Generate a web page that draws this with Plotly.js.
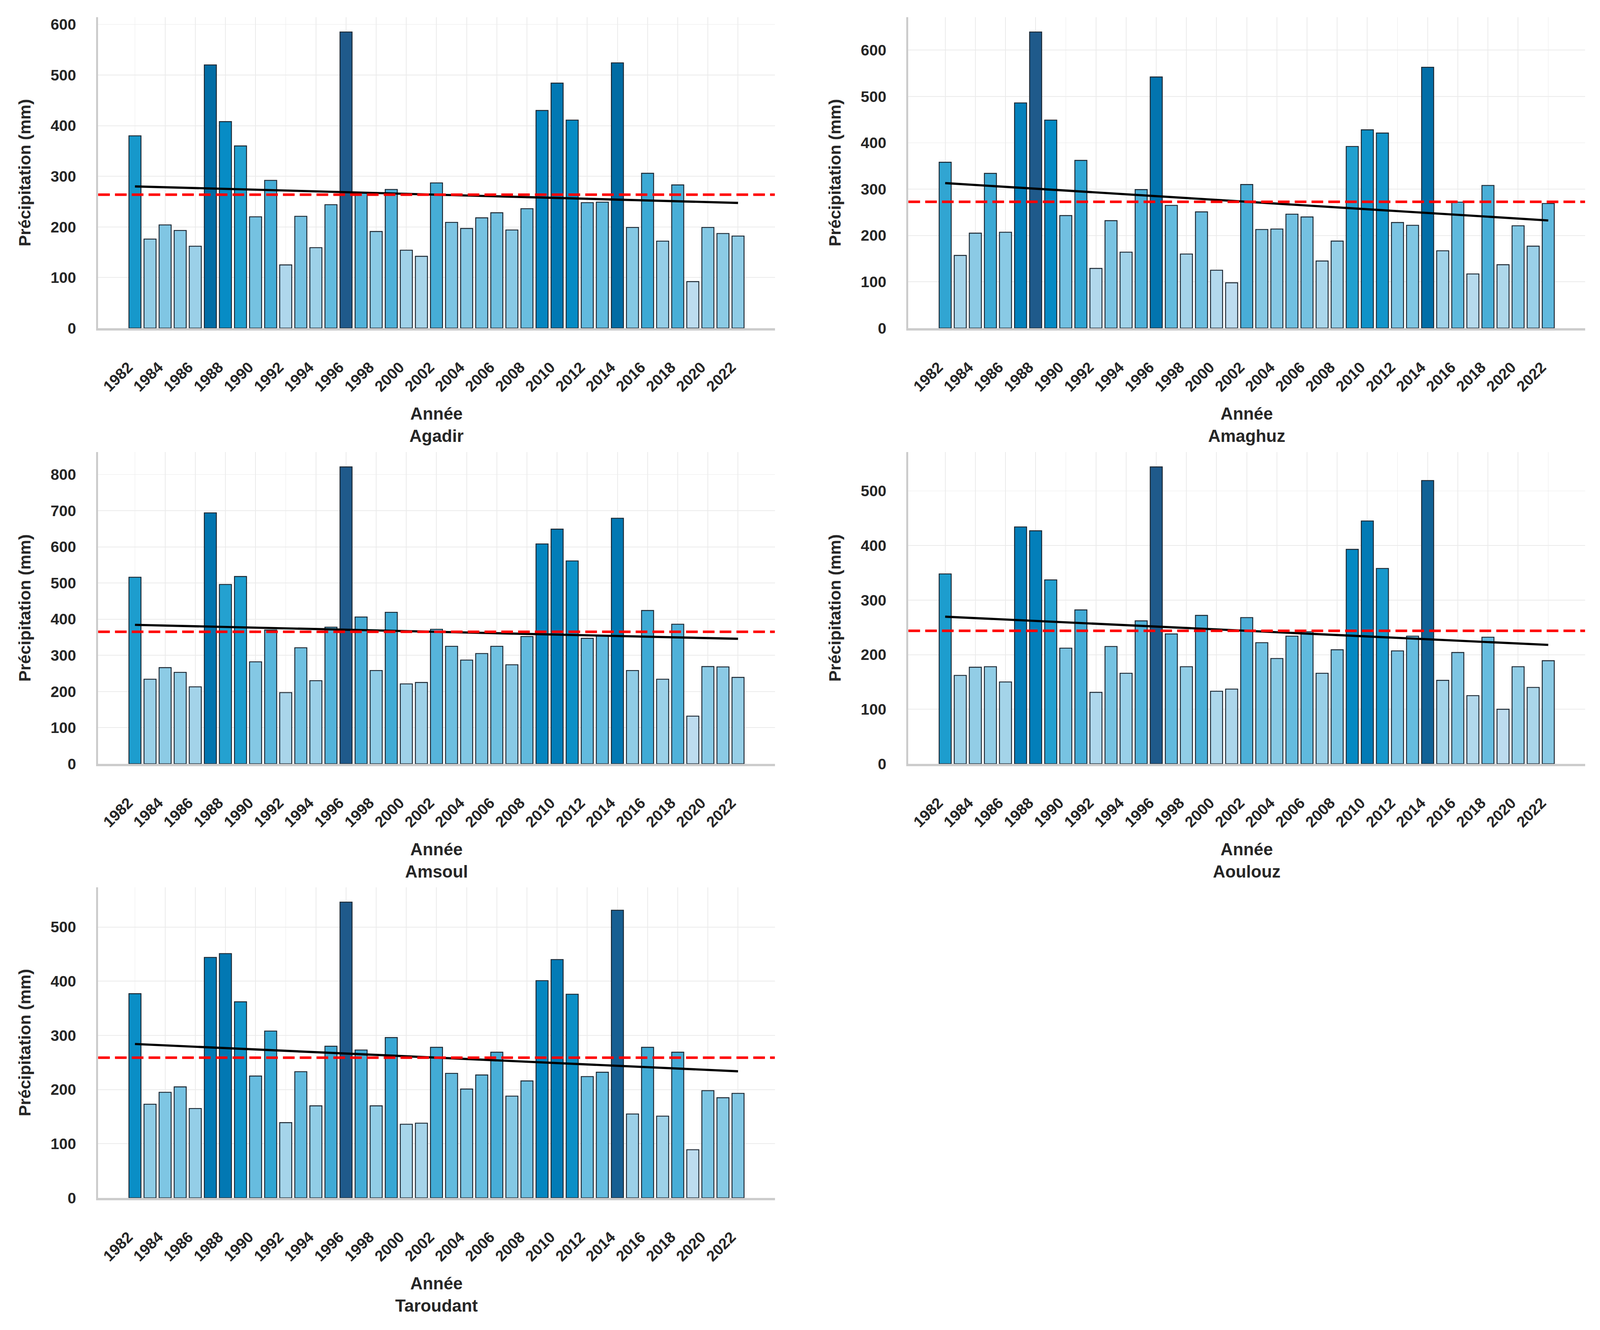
<!DOCTYPE html>
<html><head><meta charset="utf-8">
<script src="https://cdn.plot.ly/plotly-3.0.1.min.js"></script>
<style>html,body{margin:0;padding:0;background:#fff;overflow:hidden}</style>
</head><body>
<div id="chart"></div>
<script>
const years = [1982,1983,1984,1985,1986,1987,1988,1989,1990,1991,1992,1993,1994,1995,1996,1997,1998,1999,2000,2001,2002,2003,2004,2005,2006,2007,2008,2009,2010,2011,2012,2013,2014,2015,2016,2017,2018,2019,2020,2021,2022];
const tickYears = [1982,1984,1986,1988,1990,1992,1994,1996,1998,2000,2002,2004,2006,2008,2010,2012,2014,2016,2018,2020,2022];
const stations = ['Agadir','Amaghuz','Amsoul','Aoulouz','Taroudant'];

const agadir    = [380,176,204,193,162,520,408,360,220,292,125,221,159,244,585,268,191,274,154,142,287,209,197,218,228,194,236,430,484,411,248,249,524,199,306,172,283,92,199,187,182];
const amaghuz   = [358,157,205,334,207,486,639,449,243,362,129,232,164,299,542,265,160,251,125,98,310,213,214,246,240,145,188,392,428,421,228,222,563,167,272,117,308,137,221,177,269];
const amsoul    = [516,234,266,253,213,694,496,518,282,370,197,321,230,378,821,406,258,419,221,225,372,325,287,305,325,274,352,608,649,561,347,354,679,258,424,234,386,132,269,268,239];
const aoulouz   = [348,162,177,178,150,434,427,337,212,282,131,215,166,262,544,238,178,272,133,137,268,222,193,234,242,166,209,393,445,358,207,234,519,153,204,125,232,100,178,140,189];
const taroudant = [377,173,195,205,165,444,451,362,225,308,139,233,170,280,546,273,170,296,136,138,278,230,201,227,269,188,216,401,440,376,224,232,531,155,278,151,269,89,198,185,193];
const series = [agadir, amaghuz, amsoul, aoulouz, taroudant];

const blues = [[0,'#bddcef'],[0.1,'#a8d5ea'],[0.2,'#8acae5'],[0.3,'#66bcdf'],[0.4,'#45acd6'],[0.55,'#1f9fcf'],[0.65,'#058ac4'],[0.8,'#0277b2'],[0.88,'#026ba3'],[1,'#1f5a8b']];

const REFW = 4384, REFH = 3404;
const W = window.innerWidth || REFW, H = window.innerHeight || REFH;
const k = Math.min(W / REFW, H / REFH);
const px = v => Math.round(v * k);
const colPx = [[269,2123],[2489,4343]];
const rowPx = [[44,840],[1157,1955],[2271,3066]];
const FONT = 'Liberation Sans, Arial, Helvetica, sans-serif';
const TXT = '#262626';

document.getElementById('chart').style.width = W + 'px';
document.getElementById('chart').style.height = H + 'px';

const data = [];
const layout = {
  width: W, height: H, autosize: false,
  margin: {l:0, r:0, t:0, b:0},
  paper_bgcolor: '#ffffff', plot_bgcolor: '#ffffff',
  showlegend: false, shapes: [],
  font: {family: FONT, color: TXT}
};

series.forEach((vals, i) => {
  const col = i % 2, row = Math.floor(i / 2);
  const sfx = i === 0 ? '' : String(i + 1);
  const xa = 'x' + sfx, ya = 'y' + sfx;
  const vmin = Math.min(...vals), vmax = Math.max(...vals);
  const n = vals.length;
  const mean = vals.reduce((a, b) => a + b, 0) / n;
  const mx = years.reduce((a, b) => a + b, 0) / n;
  let sxy = 0, sxx = 0;
  years.forEach((y, j) => { sxy += (y - mx) * (vals[j] - mean); sxx += (y - mx) * (y - mx); });
  const slope = sxy / sxx, icpt = mean - slope * mx;

  data.push({
    type: 'bar', x: years, y: vals, xaxis: xa, yaxis: ya, width: 0.8,
    marker: {color: vals, colorscale: blues, cmin: vmin, cmax: vmax,
             line: {color: '#1b2631', width: 2.5 * k}},
    hoverinfo: 'x+y'
  });
  data.push({
    type: 'scatter', mode: 'lines', x: years, y: years.map(y => icpt + slope * y),
    xaxis: xa, yaxis: ya, line: {color: '#000000', width: 6 * k}
  });
  layout.shapes.push({
    type: 'line', xref: xa + ' domain', yref: ya, x0: 0, x1: 1, y0: mean, y1: mean,
    line: {color: '#ff0000', width: 7 * k, dash: (32 * k).toFixed(1) + 'px,' + (14 * k).toFixed(1) + 'px'}, layer: 'above'
  });

  const c = colPx[col], r = rowPx[row];
  layout['xaxis' + sfx] = {
    anchor: ya, domain: [c[0] / REFW, c[1] / REFW],
    range: [1979.56, 2024.44],
    tickmode: 'array', tickvals: tickYears, ticktext: tickYears.map(String),
    tickangle: -45, ticks: '', ticklabelstandoff: px(60), ticklabelshift: px(-18),
    tickfont: {family: FONT, size: 42 * k, color: TXT, weight: 'bold'},
    showgrid: true, gridcolor: '#ebebeb', gridwidth: 2 * k,
    showline: true, linecolor: '#cccccc', linewidth: 6 * k,
    zeroline: false, automargin: false,
    title: {text: 'Année<br>' + stations[i], standoff: 38 * k,
            font: {family: FONT, size: 47 * k, color: TXT, weight: 'bold'}}
  };
  layout['yaxis' + sfx] = {
    anchor: xa, domain: [1 - r[1] / REFH, 1 - r[0] / REFH],
    range: [0, vmax * 1.05], dtick: 100, tick0: 0,
    ticks: '', ticklabelstandoff: px(46),
    tickfont: {family: FONT, size: 42 * k, color: TXT, weight: 'bold'},
    showgrid: true, gridcolor: '#ebebeb', gridwidth: 2 * k,
    showline: true, linecolor: '#cccccc', linewidth: 6 * k,
    zeroline: false, automargin: false,
    title: {text: 'Précipitation (mm)', standoff: 42 * k,
            font: {family: FONT, size: 46 * k, color: TXT, weight: 'bold'}}
  };
});

Plotly.newPlot('chart', data, layout, {staticPlot: true, displayModeBar: false});
</script>
</body></html>
